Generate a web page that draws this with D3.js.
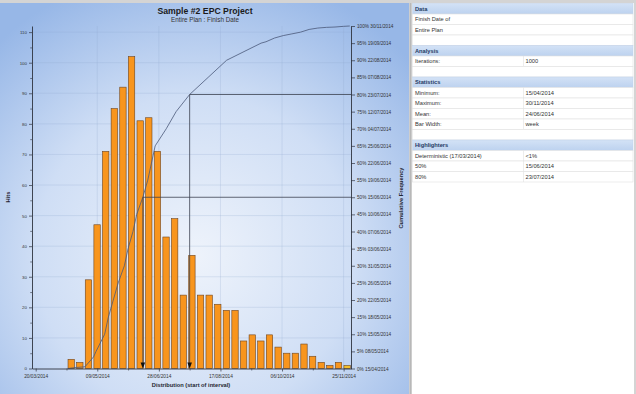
<!DOCTYPE html>
<html>
<head>
<meta charset="utf-8">
<title>Sample #2 EPC Project</title>
<script src="https://d3js.org/d3.v7.min.js"></script>
<style>
  body { margin: 0; background: #fff; }
  svg { display: block; font-family: "Liberation Sans", Arial, sans-serif; }
</style>
</head>
<body>
<svg id="chart" width="636" height="394"></svg>
<script>
// weekly bins (start of interval) and hits per bin
const binStarts = ["15/04/2014", "22/04/2014", "29/04/2014", "06/05/2014", "13/05/2014", "20/05/2014",
  "27/05/2014", "03/06/2014", "10/06/2014", "17/06/2014", "24/06/2014", "01/07/2014", "08/07/2014",
  "15/07/2014", "22/07/2014", "29/07/2014", "05/08/2014", "12/08/2014", "19/08/2014", "26/08/2014",
  "02/09/2014", "09/09/2014", "16/09/2014", "23/09/2014", "30/09/2014", "07/10/2014", "14/10/2014",
  "21/10/2014", "28/10/2014", "04/11/2014", "11/11/2014", "18/11/2014", "25/11/2014"];
const hits = [3, 2, 29, 47, 71, 85, 92, 102, 81, 82, 71, 43, 49, 24, 37, 24, 24, 21, 19, 19,
  9, 11, 9, 11, 7, 5, 5, 8, 4, 2, 1, 2, 1];

// cumulative frequency: percentile -> date (right axis labels)
const cumPct = [0, 5, 10, 15, 20, 25, 30, 35, 40, 45, 50, 55, 60, 65, 70, 75, 80, 85, 90, 95, 100];
const cumDates = ["15/04/2014", "08/05/2014", "15/05/2014", "18/05/2014", "22/05/2014", "26/05/2014",
  "31/05/2014", "03/06/2014", "07/06/2014", "10/06/2014", "15/06/2014", "19/06/2014", "22/06/2014",
  "25/06/2014", "04/07/2014", "12/07/2014", "23/07/2014", "07/08/2014", "22/08/2014", "19/09/2014",
  "30/11/2014"];

// x axis tick dates
const xTickDates = ["20/03/2014", "09/05/2014", "28/06/2014", "17/08/2014", "06/10/2014", "25/11/2014"];
const xMinorDates = ["14/04/2014", "03/06/2014", "23/07/2014", "11/09/2014", "31/10/2014"];
const xDomain = ["17/03/2014", "01/12/2014"];

// highlighters
const highlightPct = [50, 80];
const highlightDates = ["15/06/2014", "23/07/2014"];

// right hand info panel
const panelRows = [
  { head: "Data" },
  { a: "Finish Date of" },
  { a: "Entire Plan" },
  {},
  { head: "Analysis" },
  { a: "Iterations:", b: "1000" },
  {},
  { head: "Statistics" },
  { a: "Minimum:", b: "15/04/2014" },
  { a: "Maximum:", b: "30/11/2014" },
  { a: "Mean:", b: "24/06/2014" },
  { a: "Bar Width:", b: "week" },
  {},
  { head: "Highlighters" },
  { a: "Deterministic (17/03/2014)", b: "<1%" },
  { a: "50%", b: "15/06/2014" },
  { a: "80%", b: "23/07/2014" }
];

const parse = d3.utcParse("%d/%m/%Y");
const fmt = d3.utcFormat("%d/%m/%Y");
const svg = d3.select("#chart");

// frame + backgrounds
const defs = svg.append("defs");
const bg = defs.append("radialGradient").attr("id", "bg")
  .attr("gradientUnits", "userSpaceOnUse")
  .attr("cx", 195).attr("cy", 255).attr("r", 290);
bg.append("stop").attr("offset", 0).attr("stop-color", "#eef3fb");
bg.append("stop").attr("offset", 0.55).attr("stop-color", "#cfdef5");
bg.append("stop").attr("offset", 1).attr("stop-color", "#97b7e7");
const hd = defs.append("linearGradient").attr("id", "hd").attr("x1", 0).attr("x2", 0).attr("y1", 0).attr("y2", 1);
hd.append("stop").attr("offset", 0).attr("stop-color", "#d3e2f6");
hd.append("stop").attr("offset", 1).attr("stop-color", "#bdd2ef");

svg.append("rect").attr("width", 636).attr("height", 394).attr("fill", "#d4d4d4");
svg.append("rect").attr("x", 0).attr("y", 3).attr("width", 409).attr("height", 391).attr("fill", "url(#bg)");
svg.append("rect").attr("x", 412).attr("y", 3).attr("width", 222).attr("height", 391).attr("fill", "#fff");
svg.append("line").attr("x1", 410.5).attr("x2", 410.5).attr("y1", 3).attr("y2", 394)
  .attr("stroke", "#b8b8b8").attr("stroke-width", 1.5);

// scales
const x = d3.scaleUtc().domain(xDomain.map(parse)).range([32, 351]);
const yHits = d3.scaleLinear().domain([0, 112]).range([368.5, 26]);
const yPct = d3.scaleLinear().domain([0, 100]).range([368.5, 26]);

// faint grid
const grid = svg.append("g").attr("stroke", "#8fa6cc").attr("stroke-opacity", 0.3).attr("stroke-width", 0.8);
grid.selectAll(".gv").data(xTickDates.slice(1).map(parse)).join("line")
  .attr("x1", d => x(d)).attr("x2", d => x(d)).attr("y1", 26).attr("y2", 368.5);
grid.selectAll(".gh").data(d3.range(10, 111, 10)).join("line")
  .attr("x1", 32).attr("x2", 351).attr("y1", d => yHits(d)).attr("y2", d => yHits(d));

// bars
const bins = binStarts.map((s, i) => ({ start: parse(s), value: hits[i] }));
svg.append("g").selectAll("rect").data(bins).join("rect")
  .attr("x", d => x(d.start) + 0.3)
  .attr("width", d => (x(d3.utcDay.offset(d.start, 7)) - x(d.start)) * 0.74)
  .attr("y", d => yHits(d.value))
  .attr("height", d => yHits(0) - yHits(d.value))
  .attr("fill", (d, i) => i === bins.length - 1 ? "#f4c02a" : "#f8951d")
  .attr("stroke", "#6e4520").attr("stroke-width", 0.6);

// cumulative frequency line: percentile points, with the histogram's running total in the tails
const cum = cumPct.map((p, i) => ({ pct: p, date: parse(cumDates[i]) }));
const running = d3.cumsum(hits);
const total = d3.sum(hits);
const binEnds = bins.map((b, i) => ({ date: d3.utcDay.offset(b.start, 7), pct: running[i] / total * 100 }));
const lo = cum[1].date, hi = cum[cum.length - 2].date, end = cum[cum.length - 1].date;
const cumLine = cum.concat(binEnds.filter(d => d.date < lo || (d.date > hi && d.date < end)))
  .sort((a, b) => a.date - b.date);
svg.append("path").datum(cumLine)
  .attr("fill", "none").attr("stroke", "#4a5878").attr("stroke-width", 0.8)
  .attr("d", d3.line().x(d => x(d.date)).y(d => yPct(d.pct)));

// highlighter lines + arrows
const hl = highlightPct.map((p, i) => ({ pct: p, date: parse(highlightDates[i]) }));
const hg = svg.append("g");
hg.selectAll(".h").data(hl).join("polyline")
  .attr("fill", "none").attr("stroke", "#3c4250").attr("stroke-width", 0.8)
  .attr("points", d => `351,${yPct(d.pct)} ${x(d.date)},${yPct(d.pct)} ${x(d.date)},${yPct(0) - 5}`);
hg.selectAll(".a").data(hl).join("path")
  .attr("fill", "#111")
  .attr("d", d => `M${x(d.date) - 2.3},${yPct(0) - 6}L${x(d.date) + 2.3},${yPct(0) - 6}L${x(d.date)},${yPct(0)}Z`);

// axes
function styleAxis(g, size) {
  g.select(".domain").attr("stroke", "#2f3440").attr("stroke-width", 0.9);
  g.selectAll(".tick line").attr("stroke", "#2f3440").attr("stroke-width", 0.7);
  g.selectAll(".tick text").attr("fill", "#333").style("font-size", size + "px");
}

svg.append("g").attr("transform", "translate(32,0)")
  .call(d3.axisLeft(yHits).tickValues(d3.range(5, 111, 10)).tickSize(1.8).tickFormat("").tickSizeOuter(0))
  .call(g => { g.select(".domain").remove(); g.selectAll("line").attr("stroke", "#2f3440").attr("stroke-width", 0.6); });
svg.append("g").attr("transform", "translate(32,0)")
  .call(d3.axisLeft(yHits).tickValues(d3.range(0, 111, 10)).tickSize(3).tickPadding(2).tickSizeOuter(0))
  .call(g => styleAxis(g, 4.4));

svg.append("g").attr("transform", "translate(351,0)")
  .call(d3.axisRight(yPct).tickValues(cumPct).tickSize(4).tickPadding(2).tickSizeOuter(0)
    .tickFormat((d, i) => `${d}%  ${cumDates[i]}`))
  .call(g => styleAxis(g, 4.7));

svg.append("g").attr("transform", `translate(0,${yHits(0)})`)
  .call(d3.axisBottom(x).tickValues(xMinorDates.map(parse)).tickSize(2).tickFormat("").tickSizeOuter(0))
  .call(g => { g.select(".domain").remove(); g.selectAll("line").attr("stroke", "#2f3440").attr("stroke-width", 0.6); });
svg.append("g").attr("transform", `translate(0,${yHits(0)})`)
  .call(d3.axisBottom(x).tickValues(xTickDates.map(parse)).tickSize(3).tickPadding(3.5).tickSizeOuter(0)
    .tickFormat(fmt))
  .call(g => styleAxis(g, 4.8));

// titles
svg.append("text").attr("x", 205).attr("y", 13.5).attr("text-anchor", "middle")
  .style("font-size", "8.7px").style("font-weight", "bold").attr("fill", "#1a1a1a")
  .text("Sample #2 EPC Project");
svg.append("text").attr("x", 205).attr("y", 22).attr("text-anchor", "middle")
  .style("font-size", "6.3px").attr("fill", "#333")
  .text("Entire Plan : Finish Date");
svg.append("text").attr("x", 191).attr("y", 386.5).attr("text-anchor", "middle")
  .style("font-size", "5.7px").style("font-weight", "bold").attr("fill", "#1f2530")
  .text("Distribution (start of interval)");
svg.append("text").attr("transform", "translate(10,197) rotate(-90)").attr("text-anchor", "middle")
  .style("font-size", "5.7px").style("font-weight", "bold").attr("fill", "#1f2530")
  .text("Hits");
svg.append("text").attr("transform", "translate(402.5,198) rotate(-90)").attr("text-anchor", "middle")
  .style("font-size", "5.7px").style("font-weight", "bold").attr("fill", "#1f2530")
  .text("Cumulative Frequency");

// info panel table
const rowH = 10.5, tableTop = 3.5, tableLeft = 412.5, tableRight = 633, col2 = 523.5;
const rows = svg.append("g").selectAll("g").data(panelRows).join("g")
  .attr("transform", (d, i) => `translate(0,${tableTop + i * rowH})`);
rows.append("rect").attr("x", tableLeft).attr("width", tableRight - tableLeft).attr("height", rowH)
  .attr("fill", d => d.head ? "url(#hd)" : "#fff")
  .attr("stroke", d => d.head ? "#c2d3ea" : "#e1e1e1").attr("stroke-width", 0.6);
rows.filter(d => d.b !== undefined).append("line")
  .attr("x1", col2).attr("x2", col2).attr("y1", 0).attr("y2", rowH)
  .attr("stroke", "#e1e1e1").attr("stroke-width", 0.6);
rows.append("text").attr("x", 415).attr("y", 7.3)
  .style("font-size", "5.7px")
  .style("font-weight", d => d.head ? "bold" : "normal")
  .attr("fill", d => d.head ? "#1f3a63" : "#333")
  .text(d => d.head || d.a || "");
rows.filter(d => d.b !== undefined).append("text").attr("x", col2 + 2).attr("y", 7.3)
  .style("font-size", "5.7px").attr("fill", "#333")
  .text(d => d.b);
</script>
</body>
</html>
